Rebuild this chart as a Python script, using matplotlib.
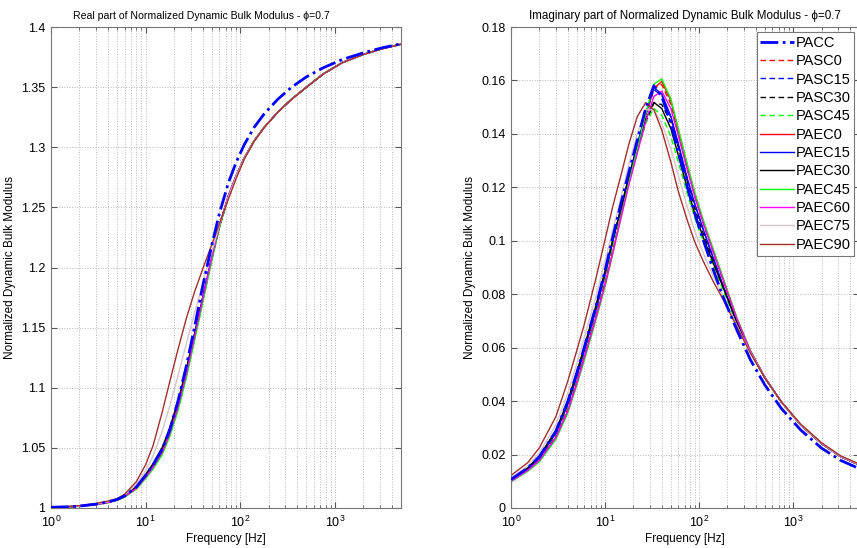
import matplotlib
matplotlib.use("Agg")
import matplotlib.pyplot as plt
from matplotlib.ticker import FixedLocator, LogLocator, FuncFormatter

plt.rcParams['font.family'] = ['Liberation Sans', 'DejaVu Sans']

# frequency grid [Hz], shared by all curves
freq = [1, 1.5, 2, 3, 4, 5, 6, 8, 10, 12, 15, 18, 22, 27, 33, 40, 50, 60, 75, 90,
        110, 140, 180, 250, 350, 500, 750, 1200, 2000, 3200, 5000]

# real part of normalized dynamic bulk modulus
re_pacc = [1.0006, 1.0010, 1.0016, 1.0032, 1.0050, 1.0071, 1.0101, 1.0176, 1.0272, 1.0360, 1.0490,
           1.0650, 1.0890, 1.1185, 1.1510, 1.1840, 1.2185, 1.2445, 1.2705, 1.2870, 1.3020, 1.3165,
           1.3280, 1.3400, 1.3500, 1.3585, 1.3660, 1.3730, 1.3785, 1.3828, 1.3860]
re_pasc0 = [1.0005, 1.0010, 1.0015, 1.0030, 1.0047, 1.0067, 1.0096, 1.0167, 1.0260, 1.0345, 1.0472,
            1.0630, 1.0852, 1.1132, 1.1440, 1.1740, 1.2085, 1.2345, 1.2597, 1.2757, 1.2909, 1.3053,
            1.3169, 1.3294, 1.3401, 1.3499, 1.3609, 1.3704, 1.3772, 1.3821, 1.3857]
re_pasc15 = [1.0006, 1.0010, 1.0016, 1.0031, 1.0049, 1.0069, 1.0099, 1.0172, 1.0266, 1.0352, 1.0480,
             1.0640, 1.0865, 1.1145, 1.1448, 1.1745, 1.2090, 1.2348, 1.2597, 1.2756, 1.2908, 1.3052,
             1.3168, 1.3293, 1.3401, 1.3499, 1.3609, 1.3704, 1.3772, 1.3821, 1.3857]
re_pasc30 = [1.0006, 1.0010, 1.0016, 1.0032, 1.0050, 1.0071, 1.0101, 1.0175, 1.0270, 1.0358, 1.0490,
             1.0650, 1.0870, 1.1145, 1.1440, 1.1730, 1.2070, 1.2335, 1.2590, 1.2754, 1.2907, 1.3052,
             1.3168, 1.3293, 1.3401, 1.3499, 1.3609, 1.3704, 1.3772, 1.3821, 1.3857]
re_pasc45 = [1.0006, 1.0010, 1.0016, 1.0031, 1.0049, 1.0069, 1.0099, 1.0172, 1.0266, 1.0352, 1.0482,
             1.0645, 1.0868, 1.1140, 1.1430, 1.1715, 1.2055, 1.2325, 1.2585, 1.2750, 1.2905, 1.3051,
             1.3168, 1.3293, 1.3401, 1.3499, 1.3609, 1.3704, 1.3772, 1.3821, 1.3857]
re_paec0 = [1.0005, 1.0009, 1.0015, 1.0029, 1.0046, 1.0065, 1.0093, 1.0162, 1.0252, 1.0335, 1.0458,
            1.0610, 1.0828, 1.1105, 1.1415, 1.1720, 1.2075, 1.2340, 1.2595, 1.2758, 1.2910, 1.3053,
            1.3169, 1.3294, 1.3401, 1.3499, 1.3609, 1.3704, 1.3772, 1.3821, 1.3857]
re_paec15 = [1.0006, 1.0010, 1.0016, 1.0031, 1.0049, 1.0069, 1.0099, 1.0172, 1.0268, 1.0355, 1.0485,
             1.0645, 1.0870, 1.1150, 1.1450, 1.1745, 1.2085, 1.2345, 1.2595, 1.2755, 1.2908, 1.3052,
             1.3168, 1.3293, 1.3401, 1.3499, 1.3609, 1.3704, 1.3772, 1.3821, 1.3857]
re_paec30 = [1.0006, 1.0011, 1.0017, 1.0033, 1.0051, 1.0072, 1.0103, 1.0180, 1.0278, 1.0370, 1.0505,
             1.0668, 1.0890, 1.1160, 1.1450, 1.1735, 1.2070, 1.2333, 1.2588, 1.2752, 1.2906, 1.3051,
             1.3168, 1.3293, 1.3401, 1.3499, 1.3609, 1.3704, 1.3772, 1.3821, 1.3857]
re_paec45 = [1.0005, 1.0009, 1.0014, 1.0028, 1.0044, 1.0063, 1.0090, 1.0158, 1.0245, 1.0325, 1.0445,
             1.0595, 1.0810, 1.1085, 1.1395, 1.1700, 1.2060, 1.2335, 1.2595, 1.2760, 1.2912, 1.3055,
             1.3170, 1.3295, 1.3402, 1.3500, 1.3610, 1.3705, 1.3772, 1.3821, 1.3857]
re_paec60 = [1.0005, 1.0009, 1.0015, 1.0029, 1.0046, 1.0066, 1.0094, 1.0164, 1.0255, 1.0340, 1.0465,
             1.0620, 1.0840, 1.1120, 1.1430, 1.1735, 1.2085, 1.2345, 1.2597, 1.2758, 1.2910, 1.3053,
             1.3169, 1.3294, 1.3401, 1.3499, 1.3609, 1.3704, 1.3772, 1.3821, 1.3857]
re_paec75 = [1.0007, 1.0011, 1.0018, 1.0035, 1.0053, 1.0074, 1.0107, 1.0196, 1.0310, 1.0435, 1.0640,
             1.0850, 1.1100, 1.1370, 1.1625, 1.1860, 1.2130, 1.2350, 1.2585, 1.2750, 1.2905, 1.3050,
             1.3167, 1.3293, 1.3401, 1.3499, 1.3609, 1.3704, 1.3772, 1.3821, 1.3857]
re_paec90 = [1.0007, 1.0012, 1.0020, 1.0038, 1.0058, 1.0078, 1.0115, 1.0220, 1.0360, 1.0520, 1.0800,
             1.1050, 1.1320, 1.1580, 1.1800, 1.1985, 1.2190, 1.2360, 1.2570, 1.2735, 1.2900, 1.3048,
             1.3165, 1.3292, 1.3400, 1.3498, 1.3608, 1.3703, 1.3771, 1.3820, 1.3856]

# imaginary part of normalized dynamic bulk modulus
im_pacc = [0.0107, 0.0149, 0.0192, 0.0288, 0.0397, 0.0505, 0.0600, 0.0755, 0.0889, 0.1010, 0.1150,
           0.1260, 0.1376, 0.1495, 0.1580, 0.1540, 0.1440, 0.1335, 0.1200, 0.1100, 0.1005, 0.0895,
           0.0790, 0.0668, 0.0555, 0.0460, 0.0372, 0.0292, 0.0224, 0.0178, 0.0148]
im_pasc0 = [0.0102, 0.0142, 0.0181, 0.0270, 0.0370, 0.0474, 0.0570, 0.0724, 0.0850, 0.0968, 0.1115,
            0.1232, 0.1350, 0.1472, 0.1570, 0.1585, 0.1512, 0.1402, 0.1268, 0.1165, 0.1066, 0.0960,
            0.0850, 0.0708, 0.0587, 0.0488, 0.0396, 0.0311, 0.0241, 0.0192, 0.0162]
im_pasc15 = [0.0104, 0.0145, 0.0186, 0.0278, 0.0384, 0.0490, 0.0585, 0.0738, 0.0870, 0.0990, 0.1130,
             0.1240, 0.1355, 0.1470, 0.1565, 0.1545, 0.1462, 0.1360, 0.1230, 0.1136, 0.1043, 0.0938,
             0.0829, 0.0694, 0.0586, 0.0487, 0.0396, 0.0311, 0.0241, 0.0192, 0.0162]
im_pasc30 = [0.0106, 0.0148, 0.0191, 0.0286, 0.0394, 0.0502, 0.0596, 0.0750, 0.0880, 0.0995, 0.1125,
             0.1230, 0.1340, 0.1440, 0.1515, 0.1510, 0.1445, 0.1350, 0.1220, 0.1120, 0.1030, 0.0930,
             0.0830, 0.0700, 0.0585, 0.0487, 0.0396, 0.0311, 0.0241, 0.0192, 0.0162]
im_pasc45 = [0.0103, 0.0144, 0.0185, 0.0277, 0.0382, 0.0487, 0.0582, 0.0735, 0.0865, 0.0980, 0.1112,
             0.1220, 0.1330, 0.1440, 0.1495, 0.1470, 0.1390, 0.1295, 0.1175, 0.1085, 0.1000, 0.0910,
             0.0815, 0.0692, 0.0582, 0.0486, 0.0396, 0.0311, 0.0241, 0.0192, 0.0162]
im_paec0 = [0.0100, 0.0140, 0.0178, 0.0265, 0.0362, 0.0467, 0.0563, 0.0714, 0.0838, 0.0955, 0.1105,
            0.1225, 0.1345, 0.1470, 0.1570, 0.1596, 0.1525, 0.1415, 0.1280, 0.1175, 0.1075, 0.0968,
            0.0857, 0.0713, 0.0589, 0.0488, 0.0396, 0.0311, 0.0241, 0.0192, 0.0162]
im_paec15 = [0.0105, 0.0146, 0.0187, 0.0280, 0.0386, 0.0492, 0.0588, 0.0742, 0.0874, 0.0995, 0.1135,
             0.1245, 0.1361, 0.1477, 0.1573, 0.1550, 0.1466, 0.1364, 0.1232, 0.1138, 0.1045, 0.0940,
             0.0830, 0.0695, 0.0586, 0.0487, 0.0396, 0.0311, 0.0241, 0.0192, 0.0162]
im_paec30 = [0.0108, 0.0150, 0.0194, 0.0290, 0.0400, 0.0508, 0.0603, 0.0758, 0.0888, 0.1000, 0.1130,
             0.1240, 0.1350, 0.1455, 0.1518, 0.1495, 0.1420, 0.1320, 0.1195, 0.1100, 0.1015, 0.0920,
             0.0825, 0.0698, 0.0584, 0.0487, 0.0396, 0.0311, 0.0241, 0.0192, 0.0162]
im_paec45 = [0.0098, 0.0137, 0.0173, 0.0257, 0.0354, 0.0458, 0.0551, 0.0704, 0.0828, 0.0948, 0.1100,
             0.1222, 0.1345, 0.1475, 0.1585, 0.1606, 0.1530, 0.1420, 0.1285, 0.1180, 0.1080, 0.0972,
             0.0860, 0.0715, 0.0590, 0.0488, 0.0396, 0.0311, 0.0241, 0.0192, 0.0162]
im_paec60 = [0.0100, 0.0140, 0.0178, 0.0264, 0.0361, 0.0465, 0.0560, 0.0712, 0.0835, 0.0950, 0.1095,
             0.1212, 0.1328, 0.1445, 0.1540, 0.1560, 0.1495, 0.1395, 0.1265, 0.1165, 0.1068, 0.0962,
             0.0853, 0.0711, 0.0588, 0.0488, 0.0396, 0.0311, 0.0241, 0.0192, 0.0162]
im_paec75 = [0.0114, 0.0157, 0.0207, 0.0311, 0.0428, 0.0540, 0.0637, 0.0793, 0.0925, 0.1036, 0.1172,
             0.1290, 0.1400, 0.1490, 0.1490, 0.1440, 0.1345, 0.1245, 0.1125, 0.1035, 0.0955, 0.0870,
             0.0790, 0.0685, 0.0582, 0.0486, 0.0396, 0.0312, 0.0242, 0.0193, 0.0163]
im_paec90 = [0.0122, 0.0169, 0.0225, 0.0342, 0.0473, 0.0589, 0.0686, 0.0860, 0.1005, 0.1125, 0.1255,
             0.1365, 0.1465, 0.1517, 0.1490, 0.1415, 0.1295, 0.1185, 0.1075, 0.0995, 0.0925, 0.0850,
             0.0780, 0.0680, 0.0580, 0.0486, 0.0397, 0.0314, 0.0244, 0.0195, 0.0165]

labels = ['PACC', 'PASC0', 'PASC15', 'PASC30', 'PASC45', 'PAEC0', 'PAEC15',
          'PAEC30', 'PAEC45', 'PAEC60', 'PAEC75', 'PAEC90']
real_parts = [re_pacc, re_pasc0, re_pasc15, re_pasc30, re_pasc45, re_paec0, re_paec15,
              re_paec30, re_paec45, re_paec60, re_paec75, re_paec90]
imag_parts = [im_pacc, im_pasc0, im_pasc15, im_pasc30, im_pasc45, im_paec0, im_paec15,
              im_paec30, im_paec45, im_paec60, im_paec75, im_paec90]

# line styles (matlab-ish)
colors = ['#0000ff', '#ff0000', '#0000ff', '#000000', '#00ff00', '#ff0000', '#0000ff',
          '#000000', '#00ff00', '#ff00ff', '#d8c4cc', '#a0302c']
dash = (0, (4, 2.5))
styles = ['-.', dash, dash, dash, dash, '-', '-', '-', '-', '-', '-', '-']
widths = [2.0, 1.0, 1.0, 1.0, 1.0, 1.0, 1.0, 1.0, 1.0, 1.0, 1.0, 1.0]

W, H = 857, 548
fig = plt.figure(figsize=(W / 100, H / 100), dpi=100)
ax1 = fig.add_axes([51 / W, 40 / H, 350 / W, 481 / H])
ax2 = fig.add_axes([511 / W, 40 / H, 348 / W, 481 / H])

phi = '\u03d5'
# the left title sits a bit left of centre and is smaller in the original
setup = [
    (ax1, real_parts, (1, 1.4), [1 + 0.05 * i for i in range(9)],
     'Real part of Normalized Dynamic Bulk Modulus - ' + phi + '=0.7', 7.6, 0.43),
    (ax2, imag_parts, (0, 0.18), [0.02 * i for i in range(10)],
     'Imaginary part of Normalized Dynamic Bulk Modulus - ' + phi + '=0.7', 8.4, 0.5),
]

for ax, series, ylim, yticks, title, tsize, tx in setup:
    for vals, lab, c, ls, lw in zip(series, labels, colors, styles, widths):
        ax.semilogx(freq, vals, color=c, linestyle=ls, linewidth=lw, label=lab,
                    zorder=3 if lab == 'PACC' else 2)
    ax.set_xlim(1, 5000)
    ax.set_ylim(*ylim)
    ax.yaxis.set_major_locator(FixedLocator(yticks))
    ax.yaxis.set_major_formatter(FuncFormatter(lambda v, p: f'{round(v, 4):g}'))
    ax.xaxis.set_major_locator(LogLocator(base=10, numticks=10))
    ax.xaxis.set_minor_locator(LogLocator(base=10, subs=range(2, 10), numticks=40))
    ax.grid(True, which='major', linestyle=':', color='#b8b8b8', linewidth=0.7)
    ax.grid(True, which='minor', axis='x', linestyle=':', color='#b8b8b8', linewidth=0.7)
    ax.tick_params(which='both', direction='in', top=True, right=True, labelsize=9,
                   color='#555555')
    ax.tick_params(which='major', length=4)
    ax.tick_params(which='minor', length=2)
    ax.tick_params(axis='x', which='major', pad=5)
    ax.tick_params(axis='y', which='major', pad=4)
    for s in ax.spines.values():
        s.set_color('#777777')
    ax.set_title(title, fontsize=tsize, pad=6, x=tx)
    ax.set_xlabel('Frequency [Hz]', fontsize=8.5, labelpad=2)
    ax.set_ylabel('Normalized Dynamic Bulk Modulus', fontsize=8.5, labelpad=4)

leg = ax2.legend(loc='upper right', fontsize=10.5, frameon=True, fancybox=False,
                 edgecolor='#777777', framealpha=1, borderpad=0.25, labelspacing=0.30,
                 handlelength=2.3, handletextpad=0.1, borderaxespad=0.35)
leg.get_frame().set_linewidth(0.8)

fig.savefig('out.png', dpi=100)
